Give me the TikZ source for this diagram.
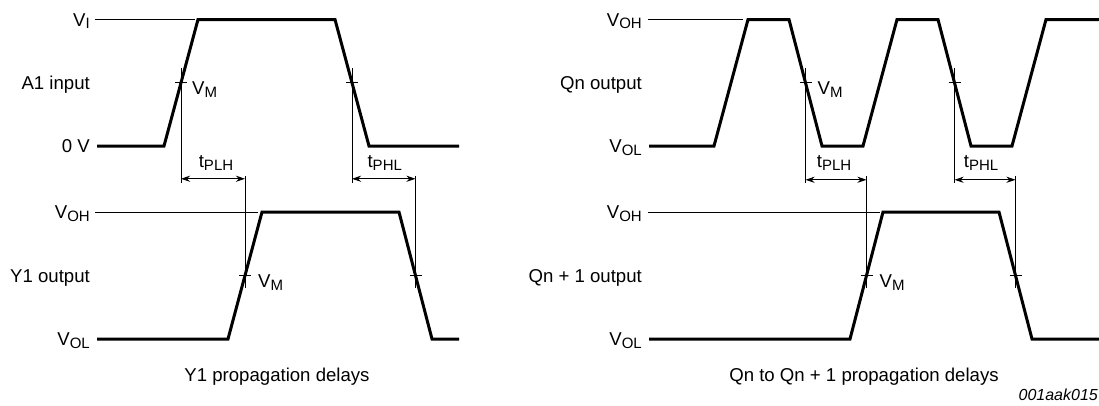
\documentclass[tikz,border=0pt]{standalone}
\usepackage{fontspec}
\setmainfont{Liberation Sans}
\usetikzlibrary{arrows.meta,calc}
\newcommand\sbs[1]{\raisebox{-2.5pt}{\fontsize{15}{15}\selectfont #1}}
\begin{document}
\begin{tikzpicture}[x=1pt,y=-1pt,font=\fontsize{18.6}{22}\selectfont,
  wave/.style={line width=3pt,line join=miter},
  guide/.style={line width=0.9pt},
  dim/.style={line width=0.9pt,{Stealth[length=9pt,width=6pt]}-{Stealth[length=9pt,width=6pt]}},
  lbl/.style={anchor=base east,inner sep=0pt},
  vm/.style={anchor=base west,inner sep=0pt},
  tl/.style={anchor=base,inner sep=0pt}]
\useasboundingbox (0,0) rectangle (1099,405);

% ---------- left, A1 input ----------
\node[lbl] (lvi) at (90,26) {V\sbs{I}};
\node[lbl] (lin) at (90,89.5) {A1 input};
\node[lbl] (l0v) at (90,152.5) {0 V};
\draw[guide] (95,19.5) -- (195,19.5);
\draw[wave] (97,146) -- (164,146) -- (198,19.5) -- (335,19.5) -- (369,146) -- (459,146);
\path (164,146) -- (198,19.5) coordinate[pos=0.5] (lc1);
\path (335,19.5) -- (369,146) coordinate[pos=0.5] (lc2);

% ---------- left, Y1 output ----------
\node[lbl] (lvoh) at (90,218.5) {V\sbs{OH}};
\node[lbl] (lout) at (90,282) {Y1 output};
\node[lbl] (lvol) at (90,345.5) {V\sbs{OL}};
\draw[guide] (95,212) -- (258,212);
\draw[wave] (97,339) -- (228,339) -- (262,212) -- (399,212) -- (432,339) -- (459,339);
\path (228,339) -- (262,212) coordinate[pos=0.5] (lc3);
\path (399,212) -- (432,339) coordinate[pos=0.5] (lc4);

% ticks and V_M
\foreach \c in {lc1,lc2,lc3,lc4}{\draw[guide] ($(\c)+(-6,0)$) -- ($(\c)+(6,0)$);}
\node[vm] (lvm1) at ($(lc1)+(11,12)$) {V\sbs{M}};
\node[vm] (lvm2) at ($(lc3)+(13,12)$) {V\sbs{M}};

% guides and delays
\draw[guide] ($(lc1)+(0,-15)$) -- ($(lc1)+(0,100)$);
\draw[guide] ($(lc2)+(0,-15)$) -- ($(lc2)+(0,100)$);
\draw[guide] ($(lc3)+(0,-100)$) -- ($(lc3)+(0,12)$);
\draw[guide] ($(lc4)+(0,-100)$) -- ($(lc4)+(0,12)$);
\coordinate (la1) at ($(lc1)+(0,96)$);
\coordinate (la2) at (la1 -| lc3);
\coordinate (la3) at ($(lc2)+(0,96)$);
\coordinate (la4) at (la3 -| lc4);
\draw[dim] (la1) -- (la2);
\draw[dim] (la3) -- (la4);
\node[tl] (ltplh) at ($($(la1)!0.5!(la2)$)+(3,-11)$) {t\sbs{PLH}};
\node[tl] (ltphl) at ($($(la3)!0.5!(la4)$)+(1,-11)$) {t\sbs{PHL}};

\node[anchor=base,inner sep=0pt] (lcap) at (277,381) {Y1 propagation delays};

% ---------- right, Qn output ----------
\node[lbl] (rvoh) at (642,26) {V\sbs{OH}};
\node[lbl] (rin) at (642,89.5) {Qn output};
\node[lbl] (rvol) at (642,152.5) {V\sbs{OL}};
\draw[guide] (648,19.5) -- (743,19.5);
\draw[wave] (649,146) -- (714,146) -- (748,19.5) -- (789,19.5) -- (822,146) -- (863,146)
  -- (897,19.5) -- (938,19.5) -- (971,146) -- (1012,146) -- (1046,19.5) -- (1100,19.5);
\path (789,19.5) -- (822,146) coordinate[pos=0.5] (rc1);
\path (938,19.5) -- (971,146) coordinate[pos=0.5] (rc2);

% ---------- right, Qn + 1 output ----------
\node[lbl] (rvoh2) at (642,218.5) {V\sbs{OH}};
\node[lbl] (rout) at (642,282) {Qn + 1 output};
\node[lbl] (rvol2) at (642,345.5) {V\sbs{OL}};
\draw[guide] (648,212) -- (880,212);
\draw[wave] (649,339) -- (850,339) -- (883,212) -- (999,212) -- (1032,339) -- (1100,339);
\path (850,339) -- (883,212) coordinate[pos=0.5] (rc3);
\path (999,212) -- (1032,339) coordinate[pos=0.5] (rc4);

\foreach \c in {rc1,rc2,rc3,rc4}{\draw[guide] ($(\c)+(-6,0)$) -- ($(\c)+(6,0)$);}
\node[vm] (rvm1) at ($(rc1)+(12,12)$) {V\sbs{M}};
\node[vm] (rvm2) at ($(rc3)+(13,12)$) {V\sbs{M}};

\draw[guide] ($(rc1)+(0,-15)$) -- ($(rc1)+(0,100)$);
\draw[guide] ($(rc2)+(0,-15)$) -- ($(rc2)+(0,100)$);
\draw[guide] ($(rc3)+(0,-100)$) -- ($(rc3)+(0,12)$);
\draw[guide] ($(rc4)+(0,-100)$) -- ($(rc4)+(0,12)$);
\coordinate (ra1) at ($(rc1)+(0,97)$);
\coordinate (ra2) at (ra1 -| rc3);
\coordinate (ra3) at ($(rc2)+(0,97)$);
\coordinate (ra4) at (ra3 -| rc4);
\draw[dim] (ra1) -- (ra2);
\draw[dim] (ra3) -- (ra4);
\node[tl] (rtplh) at ($($(ra1)!0.5!(ra2)$)+(-2,-12)$) {t\sbs{PLH}};
\node[tl] (rtphl) at ($($(ra3)!0.5!(ra4)$)+(-4,-12)$) {t\sbs{PHL}};

\node[anchor=base,inner sep=0pt] (rcap) at (864,381) {Qn to Qn + 1 propagation delays};
\node[anchor=base east,inner sep=0pt,font=\fontsize{16}{18}\selectfont\itshape] (code) at (1098,400) {001aak015};
\end{tikzpicture}
\end{document}
